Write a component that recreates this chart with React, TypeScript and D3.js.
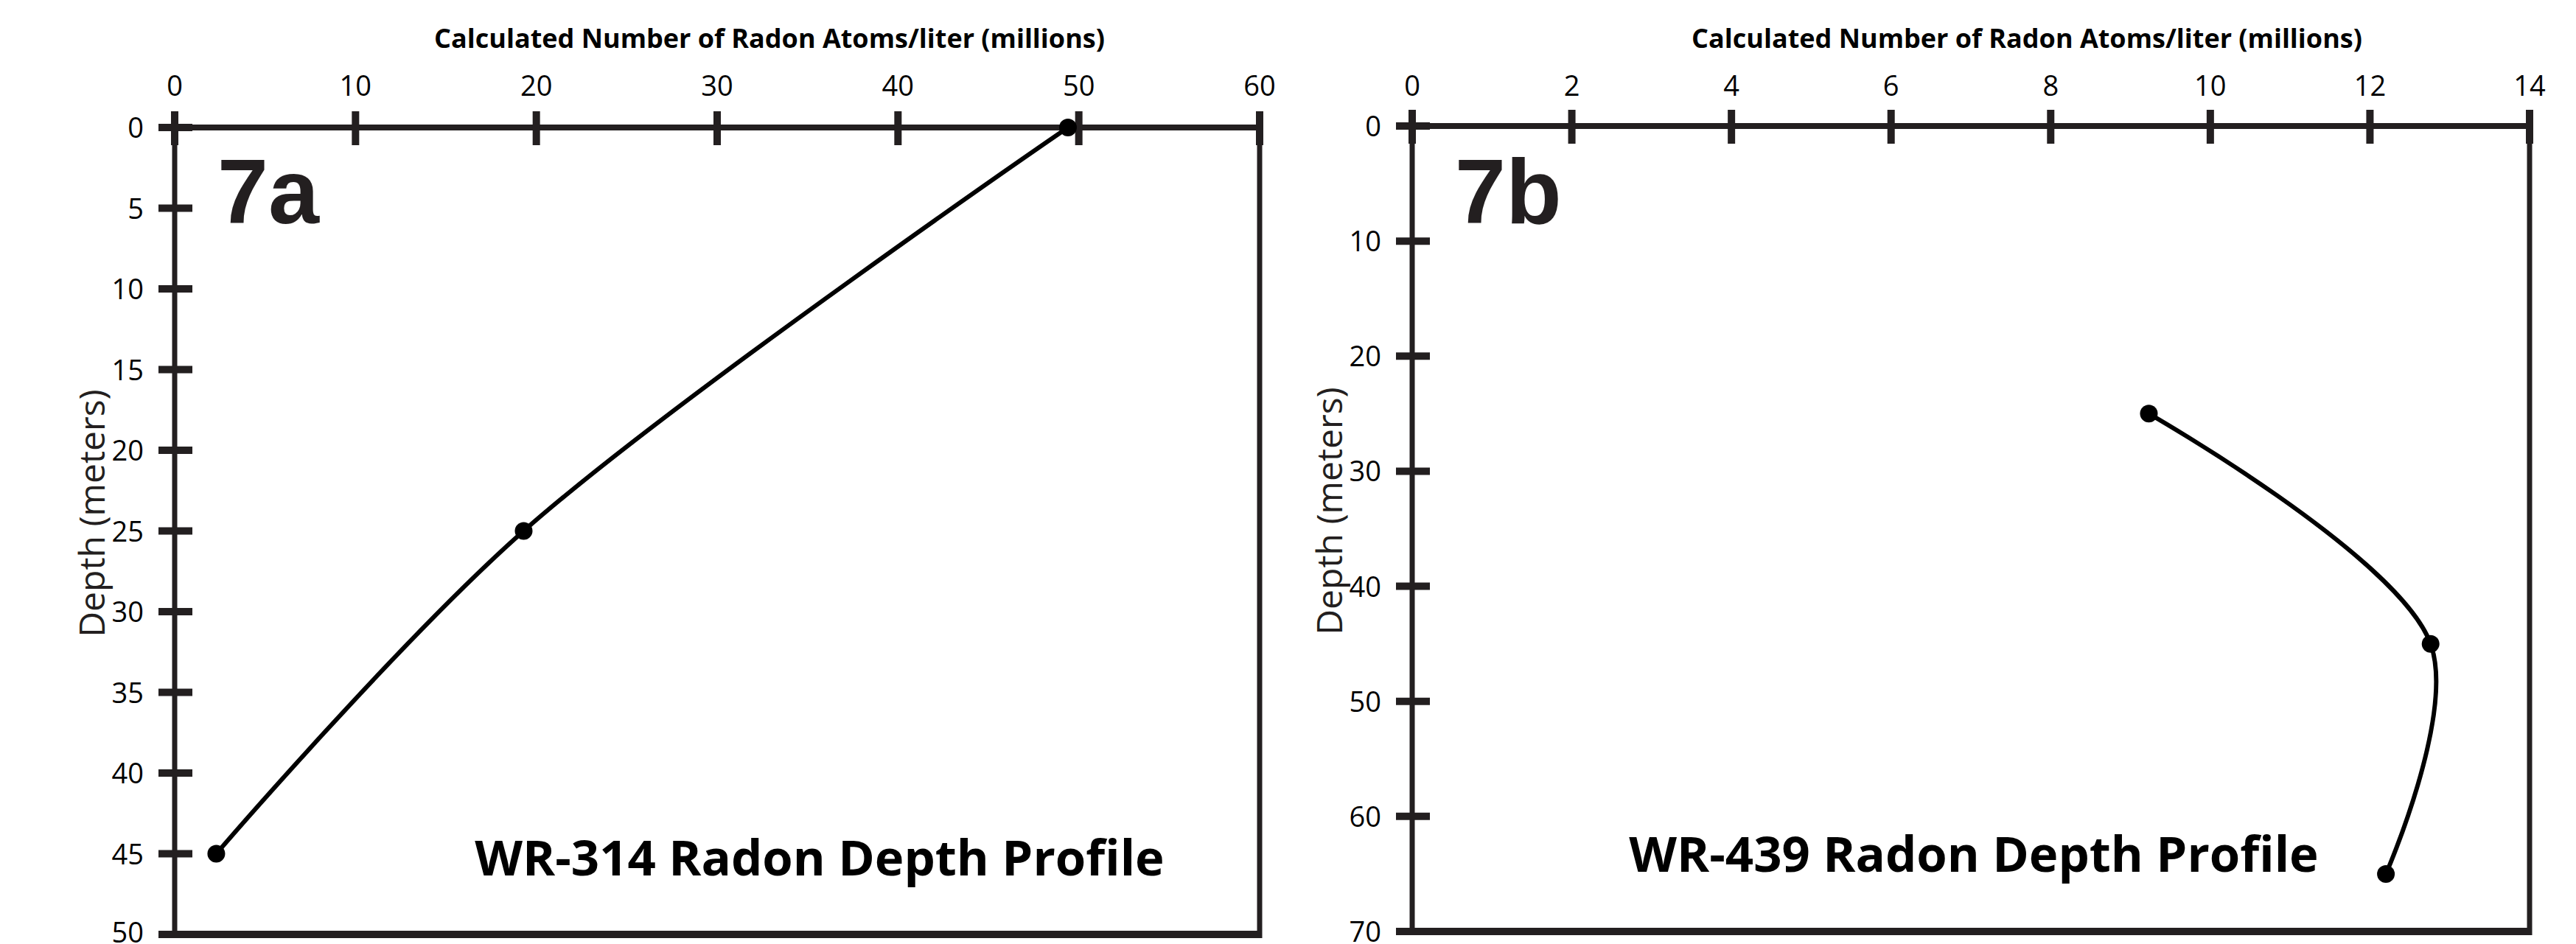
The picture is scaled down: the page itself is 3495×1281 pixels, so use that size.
import React, { useRef, useEffect } from 'react';
import * as d3 from 'd3';

// WR-314 profile (7a)
const depth314 = [0, 25, 45];
const radon314 = [49.4, 19.3, 2.3];
const xTicks314 = [0, 10, 20, 30, 40, 50, 60];
const yTicks314 = [0, 5, 10, 15, 20, 25, 30, 35, 40, 45, 50];

// WR-439 profile (7b)
const depth439 = [25, 45, 65];
const radon439 = [9.23, 12.76, 12.2];
const xTicks439 = [0, 2, 4, 6, 8, 10, 12, 14];
const yTicks439 = [0, 10, 20, 30, 40, 50, 60, 70];

const xTitle = 'Calculated Number of Radon Atoms/liter (millions)';
const yTitle = 'Depth (meters)';

const W = 3495;
const H = 1281;
const INK = '#231f20';
const FONT = '"Open Sans", "Noto Sans", sans-serif';

interface PanelSpec {
  tag: string;
  name: string;
  depth: number[];
  radon: number[];
  xTicks: number[];
  yTicks: number[];
  left: number;
  right: number;
  top: number;
  bottom: number;
  titleX: number;
  nameX: number;
  nameY: number;
}

const panels: PanelSpec[] = [
  {
    tag: '7a', name: 'WR-314 Radon Depth Profile',
    depth: depth314, radon: radon314, xTicks: xTicks314, yTicks: yTicks314,
    left: 237, right: 1709, top: 173, bottom: 1268,
    titleX: 1044, nameX: 1112, nameY: 1188,
  },
  {
    tag: '7b', name: 'WR-439 Radon Depth Profile',
    depth: depth439, radon: radon439, xTicks: xTicks439, yTicks: yTicks439,
    left: 1916, right: 3432, top: 171, bottom: 1264,
    titleX: 2750, nameX: 2678, nameY: 1183,
  },
];

const App: React.FC = () => {
  const svgRef = useRef<SVGSVGElement>(null);

  useEffect(() => {
    if (!svgRef.current) return;
    const svg = d3.select(svgRef.current);
    svg.selectAll('*').remove();

    svg.append('rect').attr('width', W).attr('height', H).attr('fill', '#fff');

    panels.forEach(p => {
      const g = svg.append('g');
      const xMax = p.xTicks[p.xTicks.length - 1];
      const yMax = p.yTicks[p.yTicks.length - 1];
      const x = d3.scaleLinear().domain([0, xMax]).range([p.left, p.right]);
      const y = d3.scaleLinear().domain([0, yMax]).range([p.top, p.bottom]);

      // frame
      g.append('line').attr('x1', p.left).attr('x2', p.right).attr('y1', p.top).attr('y2', p.top)
        .attr('stroke', INK).attr('stroke-width', 8);
      g.append('line').attr('x1', p.left).attr('x2', p.right + 3).attr('y1', p.bottom).attr('y2', p.bottom)
        .attr('stroke', INK).attr('stroke-width', 10);
      g.append('line').attr('x1', p.left).attr('x2', p.left).attr('y1', p.top).attr('y2', p.bottom)
        .attr('stroke', INK).attr('stroke-width', 7);
      g.append('line').attr('x1', p.right).attr('x2', p.right).attr('y1', p.top).attr('y2', p.bottom + 5)
        .attr('stroke', INK).attr('stroke-width', 7);

      // top axis ticks + labels
      g.selectAll('.xtick').data(p.xTicks).enter().append('line')
        .attr('x1', d => x(d)).attr('x2', d => x(d))
        .attr('y1', p.top - 22).attr('y2', p.top + 24)
        .attr('stroke', INK).attr('stroke-width', 10);
      g.selectAll('.xlab').data(p.xTicks).enter().append('text')
        .attr('x', d => x(d)).attr('y', 130)
        .attr('text-anchor', 'middle')
        .style('font-family', FONT).style('font-size', '38px').attr('fill', '#000')
        .text(d => d);

      // left axis ticks + labels
      g.selectAll('.ytick').data(p.yTicks).enter().append('line')
        .attr('x1', p.left - 22).attr('x2', p.left + 24)
        .attr('y1', d => y(d)).attr('y2', d => y(d))
        .attr('stroke', INK).attr('stroke-width', 10);
      g.selectAll('.ylab').data(p.yTicks).enter().append('text')
        .attr('x', p.left - 42).attr('y', d => Math.min(y(d) + 14, H - 2))
        .attr('text-anchor', 'end')
        .style('font-family', FONT).style('font-size', '38px').attr('fill', '#000')
        .text(d => d);

      // axis titles
      g.append('text')
        .attr('x', p.titleX).attr('y', 65)
        .attr('text-anchor', 'middle')
        .style('font-family', FONT).style('font-size', '36px').style('font-weight', 700)
        .attr('fill', '#000')
        .text(xTitle);
      const ly = (p.top + p.bottom) / 2 - 24;
      g.append('text')
        .attr('transform', `translate(${p.left - 95},${ly}) rotate(-90)`)
        .attr('text-anchor', 'middle')
        .style('font-family', FONT).style('font-size', '48px')
        .attr('fill', INK)
        .text(yTitle);

      // panel tag and profile name
      g.append('text')
        .attr('x', p.left + 58).attr('y', 303)
        .style('font-family', '"Liberation Sans", Arial, sans-serif')
        .style('font-size', '124px').style('font-weight', 700)
        .attr('fill', INK)
        .text(p.tag);
      g.append('text')
        .attr('x', p.nameX).attr('y', p.nameY)
        .attr('text-anchor', 'middle')
        .style('font-family', FONT).style('font-size', '67px').style('font-weight', 700)
        .attr('fill', '#000')
        .text(p.name);

      // profile line
      const pts = p.depth.map((d, i) => [p.radon[i], d] as [number, number]);
      const line = d3.line<[number, number]>()
        .x(d => x(d[0]))
        .y(d => y(d[1]))
        .curve(d3.curveCatmullRom.alpha(0.5));
      g.append('path')
        .attr('d', line(pts))
        .attr('fill', 'none')
        .attr('stroke', '#000')
        .attr('stroke-width', 6);
      g.selectAll('.pt').data(pts).enter().append('circle')
        .attr('cx', d => x(d[0])).attr('cy', d => y(d[1]))
        .attr('r', 12)
        .attr('fill', '#000');
    });
  }, []);

  return (
    <svg
      ref={svgRef}
      width={W}
      height={H}
      style={{ position: 'absolute', left: 0, top: 0, display: 'block' }}
    />
  );
};

export default App;
